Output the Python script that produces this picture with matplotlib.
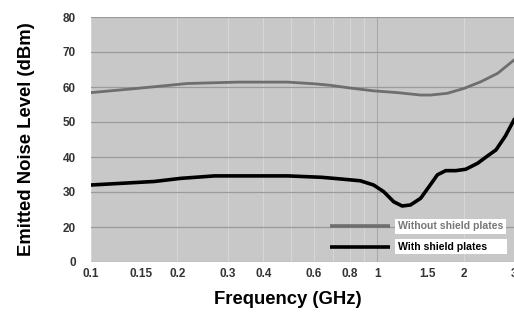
import matplotlib
matplotlib.use('Agg')
import matplotlib.pyplot as plt
from matplotlib.ticker import FixedLocator, NullLocator

plt.rcParams['font.family'] = ['Liberation Sans', 'DejaVu Sans']
plt.rcParams['font.weight'] = 'bold'

# data
freq_without = [0.1, 0.145, 0.217, 0.325, 0.487, 0.605, 0.684, 0.804, 0.97, 1.172, 1.416,
                1.535, 1.755, 2.008, 2.297, 2.63, 3.0]
level_without = [58.4, 59.6, 61.0, 61.4, 61.4, 60.9, 60.5, 59.7, 58.9, 58.4, 57.7,
                 57.7, 58.2, 59.6, 61.5, 63.9, 67.7]

freq_with = [0.1, 0.166, 0.206, 0.27, 0.487, 0.638, 0.75, 0.872, 0.97, 1.052, 1.141, 1.221,
             1.305, 1.416, 1.514, 1.62, 1.732, 1.877, 2.036, 2.238, 2.425, 2.594, 2.8, 3.0]
level_with = [32.0, 33.0, 33.9, 34.6, 34.6, 34.2, 33.7, 33.2, 32.0, 30.1, 27.2, 26.0,
              26.3, 28.2, 31.5, 34.9, 36.1, 36.1, 36.5, 38.2, 40.3, 42.0, 46.0, 50.6]

xticks = [0.1, 0.15, 0.2, 0.3, 0.4, 0.6, 0.8, 1, 1.5, 2, 3]
xtick_labels = ['0.1', '0.15', '0.2', '0.3', '0.4', '0.6', '0.8', '1', '1.5', '2', '3']
yticks = [10, 20, 30, 40, 50, 60, 70, 80]
ytick_labels = ['0', '20', '30', '40', '50', '60', '70', '80']

fig = plt.figure(figsize=(5.14, 3.12), dpi=100)
ax = fig.add_axes([91 / 514, 50 / 312, 1 - 91 / 514, 245 / 312])
ax.set_facecolor('#c8c8c8')

ax.set_xscale('log')
ax.set_xlim(0.1, 3.0)
ax.set_ylim(10, 80)

# grid
for f in [0.1, 0.2, 0.3, 0.4, 0.5, 0.6, 0.7, 0.8, 0.9, 1, 2, 3]:
    ax.axvline(f, color='#d6d6d6', lw=0.8, zorder=1)
ax.axvline(1, color='#a8a8a8', lw=0.8, zorder=1)
for y in yticks:
    ax.axhline(y, color='#9a9a9a', lw=0.9, zorder=1)

ax.plot(freq_without, level_without, color='#6e6e6e', lw=2.0, zorder=3,
        solid_joinstyle='round')
ax.plot(freq_with, level_with, color='#000000', lw=2.6, zorder=3,
        solid_joinstyle='round')

ax.xaxis.set_major_locator(FixedLocator(xticks))
ax.xaxis.set_minor_locator(NullLocator())
ax.set_xticklabels(xtick_labels)
ax.set_yticks(yticks)
ax.set_yticklabels(ytick_labels)
ax.tick_params(axis='both', length=0, labelsize=8.5, colors='#333333')
ax.tick_params(axis='x', pad=4)
ax.tick_params(axis='y', pad=11)
for s in ax.spines.values():
    s.set_visible(False)

ax.set_xlabel('Frequency (GHz)', fontsize=13.3, fontweight='bold')
ax.xaxis.set_label_coords((288 - 91) / 423, -0.12)
ax.set_ylabel('Emitted Noise Level (dBm)', fontsize=13.3, fontweight='bold', labelpad=20)

# legend drawn by hand: lines on the grey, labels in white boxes
x0 = (330 - 91) / 423
x1 = (390 - 91) / 423
xt = (398 - 91) / 423
ax.plot([x0, x1], [0.145, 0.145], transform=ax.transAxes, color='#6e6e6e', lw=2.6,
        solid_capstyle='butt', zorder=4)
ax.plot([x0, x1], [0.063, 0.063], transform=ax.transAxes, color='#000000', lw=2.6,
        solid_capstyle='butt', zorder=4)
ax.text(xt, 0.145, 'Without shield plates', transform=ax.transAxes,
        fontsize=7.6, color='#777777', va='center', ha='left', zorder=5,
        bbox=dict(boxstyle='square,pad=0.25', fc='white', ec='none'))
ax.text(xt, 0.063, 'With shield plates      ', transform=ax.transAxes,
        fontsize=7.6, color='#000000', va='center', ha='left', zorder=5,
        bbox=dict(boxstyle='square,pad=0.25', fc='white', ec='none'))

fig.savefig('out.png', dpi=100)
